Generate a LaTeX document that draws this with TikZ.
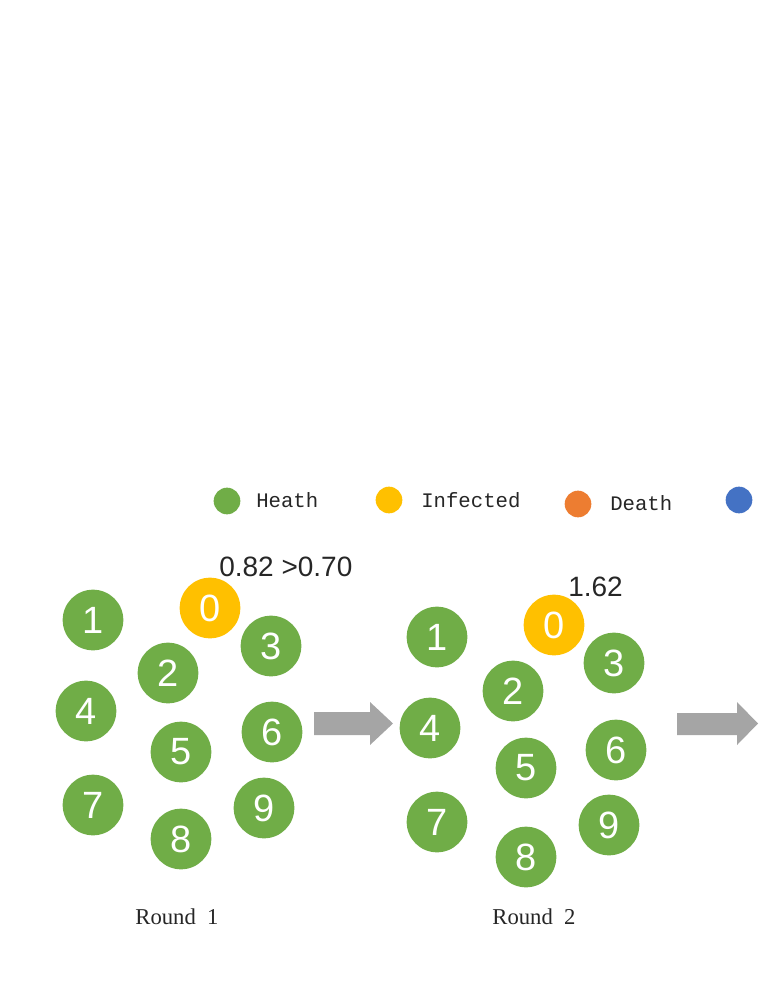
\documentclass[tikz,border=0pt]{standalone}
\usepackage{fontspec}
\setmainfont{Liberation Sans}
\newfontfamily\legendfont{Liberation Mono}
\newfontfamily\roundfont{Liberation Serif}
\definecolor{cgreen}{HTML}{70AD47}
\definecolor{cyellow}{HTML}{FFC000}
\definecolor{corange}{HTML}{ED7D31}
\definecolor{cblue}{HTML}{4472C4}
\definecolor{cgray}{HTML}{A5A5A5}
\definecolor{ctext}{HTML}{262626}
\tikzset{
  person/.style={circle, inner sep=0pt, minimum size=45.5pt, text=white,
     font=\fontsize{28.5}{28.5}\selectfont},
  healthy/.style={person, fill=cgreen},
  infected/.style={person, fill=cyellow},
  legdot/.style={circle, inner sep=0pt, minimum size=20pt},
  legtext/.style={anchor=west, inner sep=0pt, font=\legendfont\fontsize{15.5}{16}\selectfont, text=ctext},
  roundlab/.style={inner sep=0pt, font=\roundfont\fontsize{17}{18}\selectfont, text=ctext},
  valuelab/.style={anchor=west, inner sep=0pt, font=\fontsize{21}{22}\selectfont, text=ctext},
  bigarrow/.style={fill=cgray, draw=none}
}
\begin{document}
\begin{tikzpicture}[x=0.75pt,y=-0.75pt]
\useasboundingbox (0,0) rectangle (762,987);
% legend
\node[legdot, fill=cgreen] (lg) at (227,501) {};
\node[legtext] (lgt) at (256,500) {Heath};
\node[legdot, fill=cyellow] (ly) at (389,500) {};
\node[legtext] (lyt) at (421,500) {Infected};
\node[legdot, fill=corange] (lo) at (578,504) {};
\node[legtext] (lot) at (610,503) {Death};
\node[legdot, fill=cblue] (lb) at (739,500) {};
% round 1
\node[infected] (a0) at (210,608) {0};
\node[healthy] (a1) at (93,620) {1};
\node[healthy] (a2) at (168,673) {2};
\node[healthy] (a3) at (271,646) {3};
\node[healthy] (a4) at (86,711) {4};
\node[healthy] (a5) at (181,752) {5};
\node[healthy] (a6) at (272,732) {6};
\node[healthy] (a7) at (93,805) {7};
\node[healthy] (a8) at (181,839) {8};
\node[healthy] (a9) at (264,808) {9};
\node[valuelab] (av) at (219,567) {0.82 >0.70};
\node[roundlab] (ar) at (177,917) {Round\ \ 1};
% arrow 1
\fill[bigarrow] (314,712) -- (370,712) -- (370,702) -- (393,723.5) -- (370,745) -- (370,735) -- (314,735) -- cycle;
% round 2
\node[infected] (b0) at (554,625) {0};
\node[healthy] (b1) at (437,637) {1};
\node[healthy] (b2) at (513,691) {2};
\node[healthy] (b3) at (614,663) {3};
\node[healthy] (b4) at (430,728) {4};
\node[healthy] (b5) at (526,768) {5};
\node[healthy] (b6) at (616,750) {6};
\node[healthy] (b7) at (437,822) {7};
\node[healthy] (b8) at (526,857) {8};
\node[healthy] (b9) at (609,825) {9};
\node[valuelab] (bv) at (568,587) {1.62};
\node[roundlab] (br) at (534,917) {Round\ \ 2};
% arrow 2
\fill[bigarrow] (677,713) -- (737,713) -- (737,702) -- (758,723.5) -- (737,745) -- (737,735) -- (677,735) -- cycle;
\end{tikzpicture}
\end{document}
